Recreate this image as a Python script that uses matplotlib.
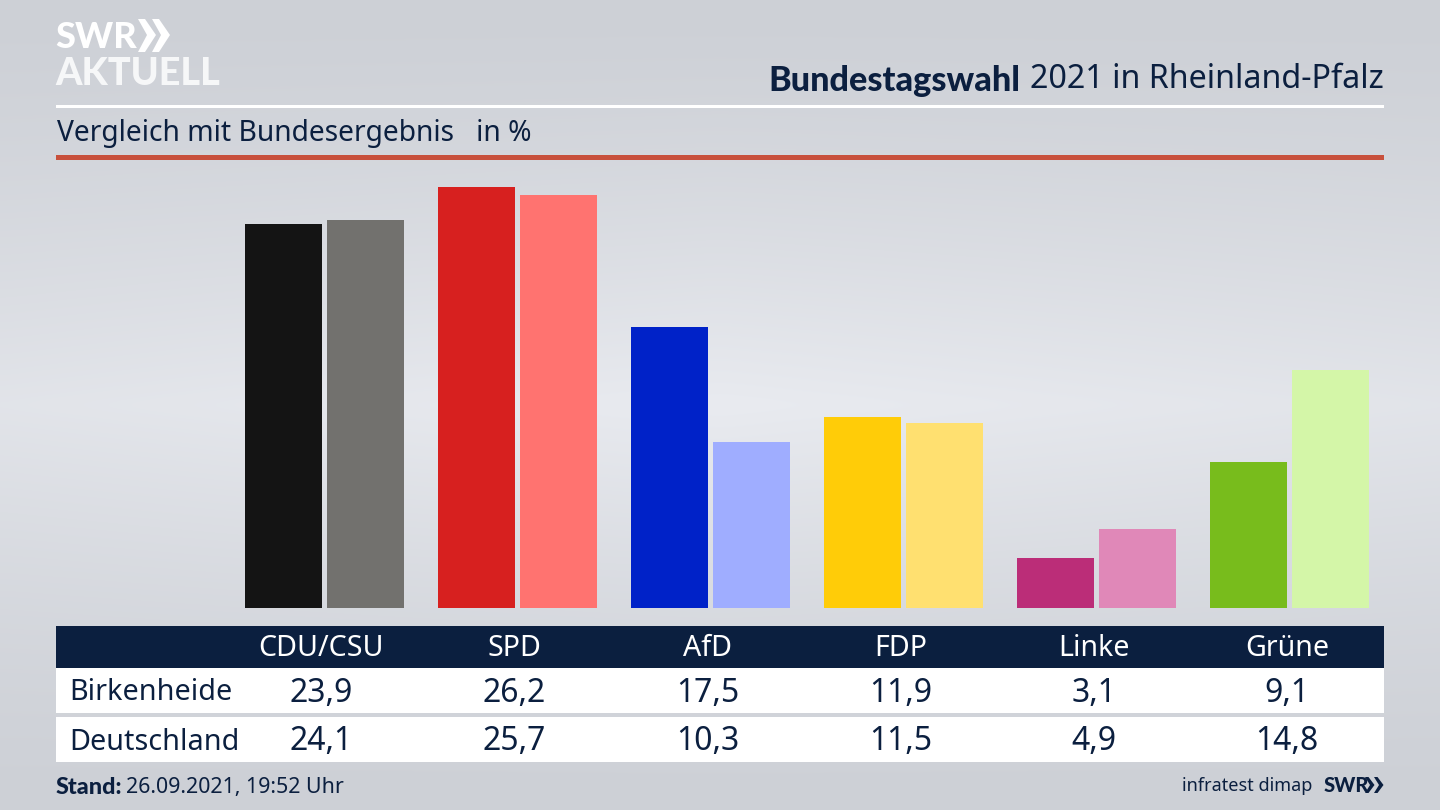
import numpy as np
import matplotlib
matplotlib.use("Agg")
import matplotlib.pyplot as plt
from matplotlib.patches import Rectangle, Polygon

parties = ['CDU/CSU', 'SPD', 'AfD', 'FDP', 'Linke', 'Grüne']
birkenheide = [23.9, 26.2, 17.5, 11.9, 3.1, 9.1]
deutschland = [24.1, 25.7, 10.3, 11.5, 4.9, 14.8]
colors_local = ['#141414', '#d7201f', '#0022c8', '#ffcc08', '#bb2d78', '#78bc1c']
colors_national = ['#72716e', '#ff7370', '#9fadff', '#ffe070', '#e088b8', '#d4f6a8']
row_names = ['Birkenheide', 'Deutschland']

NAVY = '#0b1f3f'
BOLD = ['Lato', 'DejaVu Sans']
plt.rcParams['font.family'] = ['Noto Sans', 'DejaVu Sans']

fig = plt.figure(figsize=(14.4, 8.1), dpi=100)

# full figure axes in pixel coordinates for the frame around the chart
bg = fig.add_axes([0, 0, 1, 1])
bg.set_xlim(0, 1440)
bg.set_ylim(810, 0)
bg.axis('off')

# background: grey at top and bottom, lighter in the middle
yy, xx = np.mgrid[0:1:81j, 0:1:144j]
shade = 1 - np.abs(yy - 0.5) * 2
shade = shade ** 1.3 * (1 - 0.25 * np.abs(xx - 0.5) * 2)
top = np.array([205, 208, 214]) / 255
mid = np.array([233, 235, 240]) / 255
grad = top + (mid - top) * shade[..., None]
bg.imshow(grad, extent=[0, 1440, 810, 0], aspect='auto', interpolation='bicubic', zorder=0)

# logo
bg.text(55, 37, 'SWR', color='white', fontsize=26, family=BOLD, fontweight='black', va='center', ha='left')
for x0 in (138, 152):
    bg.add_patch(Polygon([(x0, 19), (x0 + 7, 19), (x0 + 18, 35), (x0 + 7, 52), (x0, 52), (x0 + 9, 35)],
                         color='white', lw=0, zorder=3))
bg.text(55, 74, 'AKTUELL', color='#f6f7f8', fontsize=27.2, family=BOLD, fontweight='black', va='center', ha='left')

# heading
bg.text(1020, 81, 'Bundestagswahl', color=NAVY, fontsize=24.7, family=BOLD, fontweight='black', va='center', ha='right')
bg.text(1384, 80, '2021 in Rheinland-Pfalz', color=NAVY, fontsize=23.2, va='center', ha='right')
bg.text(57, 134, 'Vergleich mit Bundesergebnis   in %', color=NAVY, fontsize=20.3, va='center', ha='left')
bg.add_patch(Rectangle((56, 104.5), 1328, 3, color='white', lw=0))
bg.add_patch(Rectangle((56, 155), 1328, 5, color='#c8503c', lw=0))

# bars
ax = fig.add_axes([56 / 1440, (810 - 608) / 810, 1328 / 1440, 448 / 810])
ax.patch.set_alpha(0)
x = np.arange(len(parties))
ax.bar(x - 0.2124, birkenheide, 0.399, color=colors_local)
ax.bar(x + 0.2124, deutschland, 0.399, color=colors_national)
ax.set_xlim((56 - 324.5) / 193, (1384 - 324.5) / 193)
ax.set_ylim(0, 448 / 16.08)
ax.axis('off')

# table
bg.add_patch(Rectangle((56, 626), 1328, 42, color=NAVY, lw=0))
bg.add_patch(Rectangle((56, 668), 1328, 45, color='white', lw=0))
bg.add_patch(Rectangle((56, 717), 1328, 45, color='white', lw=0))
for i, name in enumerate(parties):
    cx = 321 + 193.2 * i
    bg.text(cx, 649, name, color='white', fontsize=20.6, va='center', ha='center')
    bg.text(cx, 693, f'{birkenheide[i]:.1f}'.replace('.', ','), color=NAVY, fontsize=23, va='center', ha='center')
    bg.text(cx, 742, f'{deutschland[i]:.1f}'.replace('.', ','), color=NAVY, fontsize=23, va='center', ha='center')
bg.text(69, 693, row_names[0], color=NAVY, fontsize=20.7, va='center', ha='left')
bg.text(69, 742, row_names[1], color=NAVY, fontsize=20.7, va='center', ha='left')

# footer
bg.text(56, 787, 'Stand:', color=NAVY, fontsize=16.8, family=BOLD, fontweight='black', va='center', ha='left')
bg.text(126, 788, '26.09.2021, 19:52 Uhr', color=NAVY, fontsize=15.4, va='center', ha='left')
bg.text(1312, 786, 'infratest dimap', color=NAVY, fontsize=13, va='center', ha='right')
bg.text(1324, 785, 'SWR', color=NAVY, fontsize=14.5, family=BOLD, fontweight='black', va='center', ha='left')
for x0 in (1365, 1374):
    bg.add_patch(Polygon([(x0, 777), (x0 + 3.5, 777), (x0 + 9.5, 785), (x0 + 3.5, 793), (x0, 793), (x0 + 5, 785)],
                         color=NAVY, lw=0, zorder=3))

fig.savefig('out.png', dpi=100)
